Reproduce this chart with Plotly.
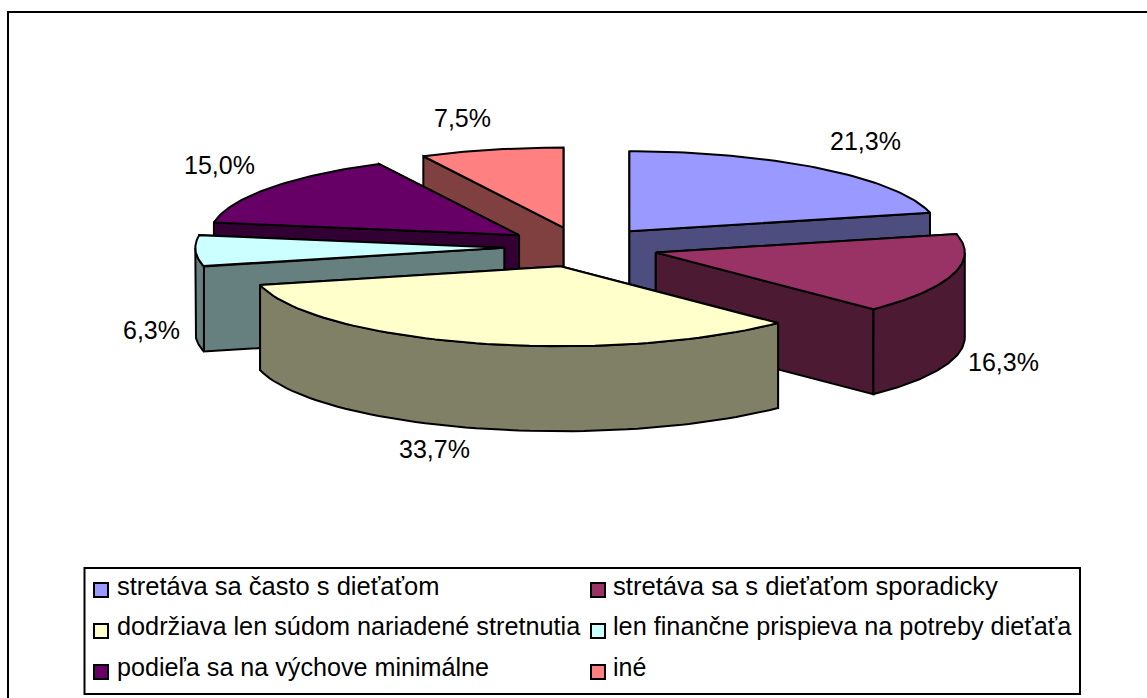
import math
import plotly.graph_objects as go

categories = ["stretáva sa často s dieťaťom", "stretáva sa s dieťaťom sporadicky",
              "dodržiava len súdom nariadené stretnutia", "len finančne prispieva na potreby dieťaťa",
              "podieľa sa na výchove minimálne", "iné"]
values = [21.3, 16.3, 33.7, 6.3, 15.0, 7.5]
labels = ["21,3%", "16,3%", "33,7%", "6,3%", "15,0%", "7,5%"]
top_colors = ["#9999FF", "#993366", "#FFFFCC", "#CCFFFF", "#660066", "#FF8080"]
wall_colors = ["#4D4D80", "#4D1A33", "#808066", "#668080", "#330033", "#804040"]
label_xy = [(865, 141), (1003, 362), (434, 449), (151, 330), (219, 165), (462, 118)]
legend_rows = [(0, 0), (1, 0), (0, 1), (1, 1), (0, 2), (1, 2)]
legend_sizes = [25.5, 25.6, 25.25, 25.25, 25.15, 25]
draw_order = [0, 5, 4, 3, 1, 2]

CX, CY, RX, RY, DEPTH, EXPLODE = 581.5, 247, 309, 80, 85, 0.25
FONT = "Liberation Sans, Arial, sans-serif"
total = sum(values)

fig = go.Figure()


def add_poly(xs, ys, color):
    fig.add_trace(go.Scatter(x=xs, y=ys, mode="lines", fill="toself", fillcolor=color,
                             line=dict(color="black", width=2), hoverinfo="skip", showlegend=False))


def arc(ax, ay, a0, a1, n=60):
    pts = [a0 + (a1 - a0) * i / n for i in range(n + 1)]
    return ([ax + RX * math.sin(math.radians(t)) for t in pts],
            [ay - RY * math.cos(math.radians(t)) for t in pts])


starts = []
acc = 0.0
for v in values:
    starts.append(acc)
    acc += v * 360 / total

for i in draw_order:
    a0 = starts[i]
    a1 = a0 + values[i] * 360 / total
    mid = math.radians((a0 + a1) / 2)
    ax = CX + EXPLODE * RX * math.sin(mid)
    ay = CY - EXPLODE * RY * math.cos(mid)
    # radial walls, back one first
    walls = sorted([a0, a1], key=lambda t: -math.cos(math.radians(t)))
    for t in walls:
        ex = ax + RX * math.sin(math.radians(t))
        ey = ay - RY * math.cos(math.radians(t))
        add_poly([ax, ex, ex, ax, ax], [ay, ey, ey + DEPTH, ay + DEPTH, ay], wall_colors[i])
    # outer curved wall, front half only
    f0, f1 = max(a0, 90), min(a1, 270)
    if f1 > f0:
        xs, ys = arc(ax, ay, f0, f1)
        add_poly(xs + xs[::-1] + [xs[0]], ys + [y + DEPTH for y in ys[::-1]] + [ys[0]], wall_colors[i])
    # top face
    xs, ys = arc(ax, ay, a0, a1)
    add_poly([ax] + xs + [ax], [ay] + ys + [ay], top_colors[i])

annotations = []
for (x, y), t in zip(label_xy, labels):
    annotations.append(dict(x=x, y=y, text=t, showarrow=False, xanchor="center", yanchor="middle",
                            font=dict(family=FONT, size=25, color="black")))

shapes = [
    dict(type="rect", x0=8, y0=12, x1=1160, y1=710, line=dict(color="black", width=2), layer="below"),
    dict(type="rect", x0=84.5, y0=568, x1=1080, y1=694, line=dict(color="black", width=2), fillcolor="white", layer="below"),
]
col_sw = [94, 591]
col_tx = [115, 611]
row_sw = [583, 624, 665]
row_tx = [586, 626, 667]
for i, (c, r) in enumerate(legend_rows):
    shapes.append(dict(type="rect", x0=col_sw[c], x1=col_sw[c] + 14, y0=row_sw[r], y1=row_sw[r] + 14,
                       fillcolor=top_colors[i], line=dict(color="black", width=2)))
    annotations.append(dict(x=col_tx[c], y=row_tx[r], text=categories[i], showarrow=False, xanchor="left",
                            yanchor="middle", font=dict(family=FONT, size=legend_sizes[i], color="black")))

fig.update_layout(
    width=1147, height=698, autosize=False, margin=dict(l=0, r=0, t=0, b=0),
    paper_bgcolor="white", plot_bgcolor="white", showlegend=False,
    xaxis=dict(range=[0, 1147], visible=False, fixedrange=True),
    yaxis=dict(range=[698, 0], visible=False, fixedrange=True),
    shapes=shapes, annotations=annotations,
)
fig.write_html("out.html", config={"displayModeBar": False},
               post_script="document.body.style.margin='0';document.documentElement.style.overflow='hidden';")
